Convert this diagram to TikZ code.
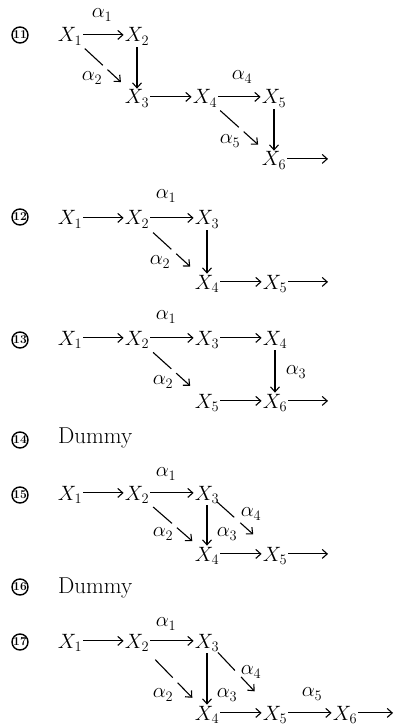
\documentclass[tikz,border=0pt]{standalone}
\usetikzlibrary{arrows.meta,calc}
\newcommand\brokenarrow[6]{%
  \draw[ln] ($(#1)!#3!(#2)$) -- ($(#1)!#4!(#2)$);
  \draw[arr] ($(#1)!#5!(#2)$) -- ($(#1)!#6!(#2)$);}
\tikzset{
  v/.style={inner sep=1pt, text depth=0pt, anchor=base, font=\fontsize{22}{26}\selectfont},
  lab/.style={inner sep=0pt, font=\fontsize{22}{26}\selectfont},
  num/.style={circle, draw, line width=1.4pt, minimum size=16pt, inner sep=-1.5pt, font=\fontsize{12}{12}\selectfont\bfseries},
  dummy/.style={inner sep=0pt, anchor=base west, font=\fontsize{23}{26}\selectfont},
  ln/.style={line width=1.1pt},
  arr/.style={ln, -{Straight Barb[length=5pt,width=9pt]}},
  varr/.style={arr, shorten <=4pt},
}
\begin{document}
\begin{tikzpicture}[x=1pt,y=-1pt]
\useasboundingbox (0,0) rectangle (401,727);
% ---------- 11
\node[num] (n11) at (20,35) {11};
\node[v] (a1) at (70,42) {$X_1$};
\node[v] (a2) at (137,42) {$X_2$};
\node[v] (a3) at (137,104) {$X_3$};
\node[v] (a4) at (205,104) {$X_4$};
\node[v] (a5) at (274,104) {$X_5$};
\node[v] (a6) at (274,166) {$X_6$};
\coordinate (ae) at (328,0);
\node[lab] (la1) at (102,15) {$\alpha_1$};
\node[lab] (la2) at (92,78) {$\alpha_2$};
\node[lab] (la4) at (242,77) {$\alpha_4$};
\node[lab] (la5) at (230,141) {$\alpha_5$};
\draw[arr] (a1) -- (a2);
\draw[varr] (a2) -- (a3);
\brokenarrow{a1}{a3}{0.22}{0.49}{0.56}{0.76}
\draw[arr] (a3) -- (a4);
\draw[arr] (a4) -- (a5);
\draw[varr] (a5) -- (a6);
\brokenarrow{a4}{a6}{0.22}{0.49}{0.56}{0.77}
\draw[arr] (a6) -- (a6 -| ae);
% ---------- 12
\node[num] (n12) at (20,217) {12};
\node[v] (b1) at (70,225) {$X_1$};
\node[v] (b2) at (137,225) {$X_2$};
\node[v] (b3) at (207,225) {$X_3$};
\node[v] (b4) at (207,289) {$X_4$};
\node[v] (b5) at (275,289) {$X_5$};
\coordinate (be) at (328,0);
\node[lab] (lb1) at (166,196) {$\alpha_1$};
\node[lab] (lb2) at (160,262) {$\alpha_2$};
\draw[arr] (b1) -- (b2);
\draw[arr] (b2) -- (b3);
\draw[varr] (b3) -- (b4);
\brokenarrow{b2}{b4}{0.23}{0.49}{0.56}{0.76}
\draw[arr] (b4) -- (b5);
\draw[arr] (b5) -- (b5 -| be);
% ---------- 13
\node[num] (n13) at (20,340) {13};
\node[v] (c1) at (70,345) {$X_1$};
\node[v] (c2) at (137,345) {$X_2$};
\node[v] (c3) at (207,345) {$X_3$};
\node[v] (c4) at (275,345) {$X_4$};
\node[v] (c5) at (207,408) {$X_5$};
\node[v] (c6) at (275,408) {$X_6$};
\coordinate (ce) at (328,0);
\node[lab] (lc1) at (166,317) {$\alpha_1$};
\node[lab] (lc2) at (163,382) {$\alpha_2$};
\node[lab] (lc3) at (296,372) {$\alpha_3$};
\draw[arr] (c1) -- (c2);
\draw[arr] (c2) -- (c3);
\draw[arr] (c3) -- (c4);
\draw[varr] (c4) -- (c6);
\brokenarrow{c2}{c5}{0.23}{0.49}{0.56}{0.76}
\draw[arr] (c5) -- (c6);
\draw[arr] (c6) -- (c6 -| ce);
% ---------- 14
\node[num] (n14) at (20,440) {14};
\node[dummy] (d14) at (58,443) {Dummy};
% ---------- 15
\node[num] (n15) at (20,495) {15};
\node[v] (d1) at (70,500) {$X_1$};
\node[v] (d2) at (137,500) {$X_2$};
\node[v] (d3) at (207,500) {$X_3$};
\node[v] (d4) at (207,561) {$X_4$};
\node[v] (d5) at (275,561) {$X_5$};
\coordinate (de) at (328,0);
\node[lab] (ld1) at (166,474) {$\alpha_1$};
\node[lab] (ld2) at (163,534) {$\alpha_2$};
\node[lab] (ld3) at (227,534) {$\alpha_3$};
\node[lab] (ld4) at (251,514) {$\alpha_4$};
\draw[arr] (d1) -- (d2);
\draw[arr] (d2) -- (d3);
\draw[varr] (d3) -- (d4);
\brokenarrow{d2}{d4}{0.23}{0.50}{0.57}{0.79}
\brokenarrow{d3}{d5}{0.15}{0.40}{0.49}{0.68}
\draw[arr] (d4) -- (d5);
\draw[arr] (d5) -- (d5 -| de);
% ---------- 16
\node[num] (n16) at (20,587) {16};
\node[dummy] (d16) at (58,593) {Dummy};
% ---------- 17
\node[num] (n17) at (20,642) {17};
\node[v] (e1) at (70,648) {$X_1$};
\node[v] (e2) at (137,648) {$X_2$};
\node[v] (e3) at (207,648) {$X_3$};
\node[v] (e4) at (207,720) {$X_4$};
\node[v] (e5) at (275,720) {$X_5$};
\node[v] (e6) at (345,720) {$X_6$};
\coordinate (ee) at (393,0);
\node[lab] (le1) at (166,624) {$\alpha_1$};
\node[lab] (le2) at (163,695) {$\alpha_2$};
\node[lab] (le3) at (227,695) {$\alpha_3$};
\node[lab] (le4) at (251,672) {$\alpha_4$};
\node[lab] (le5) at (312,694) {$\alpha_5$};
\draw[arr] (e1) -- (e2);
\draw[arr] (e2) -- (e3);
\draw[varr] (e3) -- (e4);
\brokenarrow{e2}{e4}{0.26}{0.51}{0.58}{0.79}
\brokenarrow{e3}{e5}{0.16}{0.41}{0.50}{0.70}
\draw[arr] (e4) -- (e5);
\draw[arr] (e5) -- (e6);
\draw[arr] (e6) -- (e6 -| ee);
\end{tikzpicture}
\end{document}
